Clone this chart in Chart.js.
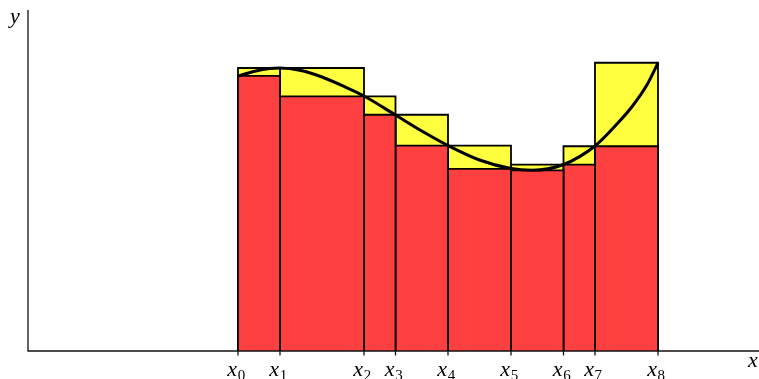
<!DOCTYPE html>
<html>
<head>
<meta charset="utf-8">
<script src="https://cdn.jsdelivr.net/npm/chart.js@4/dist/chart.umd.min.js"></script>
<style>
  html, body { margin: 0; padding: 0; background: #ffffff; }
  #wrap { width: 759px; height: 379px; }
</style>
</head>
<body>
<div id="wrap"><canvas id="c" width="759" height="379"></canvas></div>
<script>
// Partition points x0 .. x8
const partition = [0, 0.8, 2.4, 3.0, 4.0, 5.2, 6.2, 6.8, 8.0];
const tickSubscripts = ['0', '1', '2', '3', '4', '5', '6', '7', '8'];

// Upper (sup) and lower (inf) heights on each sub-interval
const upperSums = [5.39, 5.39, 4.85, 4.50, 3.91, 3.55, 3.90, 5.49];
const lowerSums = [5.24, 4.85, 4.50, 3.91, 3.47, 3.44, 3.55, 3.90];

// Sampled points of the function graph
const curveX = [0, 0.3, 0.6, 0.8, 1.2, 1.6, 2.0, 2.4, 3.0, 3.5, 4.0, 4.6, 5.2, 5.6, 6.2, 6.8, 7.2, 7.5, 7.8, 8.0];
const curveY = [5.238, 5.324, 5.381, 5.390, 5.343, 5.219, 5.048, 4.857, 4.495, 4.190, 3.914, 3.638, 3.476, 3.442, 3.552, 3.905, 4.305, 4.648, 5.086, 5.486];

const RED = '#ff4040';
const YELLOW = '#ffff40';

function rectPoints(i, h) {
  return [
    { x: partition[i], y: 0 },
    { x: partition[i], y: h },
    { x: partition[i + 1], y: h },
    { x: partition[i + 1], y: 0 }
  ];
}

const datasets = [];

// function graph on top
datasets.push({
  data: curveX.map((x, i) => ({ x, y: curveY[i] })),
  showLine: true,
  borderColor: '#000',
  borderWidth: 3,
  pointRadius: 0,
  fill: false,
  cubicInterpolationMode: 'monotone',
  order: 0
});

// lower sum rectangles
lowerSums.forEach((h, i) => {
  datasets.push({
    data: rectPoints(i, h),
    showLine: true,
    borderColor: '#000',
    borderWidth: 1.8,
    borderJoinStyle: 'miter',
    backgroundColor: RED,
    pointRadius: 0,
    fill: 'origin',
    tension: 0,
    order: 1
  });
});

// upper sum rectangles (behind)
upperSums.forEach((h, i) => {
  datasets.push({
    data: rectPoints(i, h),
    showLine: true,
    borderColor: '#000',
    borderWidth: 1.8,
    borderJoinStyle: 'miter',
    backgroundColor: YELLOW,
    pointRadius: 0,
    fill: 'origin',
    tension: 0,
    order: 2
  });
});

const MATH_FONT = 'italic 22px "Liberation Serif", "DejaVu Serif", serif';
const SUB_FONT = '15px "Liberation Serif", "DejaVu Serif", serif';

// Axes, tick marks and math-style labels
const axesPlugin = {
  id: 'mathAxes',
  afterDatasetsDraw(chart) {
    const { ctx, chartArea } = chart;
    const xs = chart.scales.x;
    const ys = chart.scales.y;
    const x0 = xs.left;
    const y0 = ys.getPixelForValue(0);
    ctx.save();
    ctx.strokeStyle = '#111';
    ctx.lineWidth = 1.3;
    ctx.beginPath();
    ctx.moveTo(x0, chartArea.top);
    ctx.lineTo(x0, y0);
    ctx.lineTo(chart.width, y0);
    ctx.stroke();

    // ticks
    partition.forEach((v) => {
      const px = xs.getPixelForValue(v);
      ctx.beginPath();
      ctx.moveTo(px, y0);
      ctx.lineTo(px, y0 + 4.5);
      ctx.stroke();
    });

    // tick labels x_i
    ctx.fillStyle = '#000';
    ctx.textBaseline = 'alphabetic';
    partition.forEach((v, i) => {
      const px = xs.getPixelForValue(v);
      ctx.font = MATH_FONT;
      const wx = ctx.measureText('x').width;
      ctx.font = SUB_FONT;
      const ws = ctx.measureText(tickSubscripts[i]).width;
      const start = px - 2 - (wx + ws) / 2;
      ctx.font = MATH_FONT;
      ctx.textAlign = 'left';
      ctx.fillText('x', start, y0 + 25);
      ctx.font = SUB_FONT;
      ctx.fillText(tickSubscripts[i], start + wx + 0.5, y0 + 29);
    });

    // axis names
    ctx.font = MATH_FONT;
    ctx.textAlign = 'left';
    ctx.fillText('y', 10, 23);
    ctx.fillText('x', 748, 366.5);
    ctx.restore();
  }
};

new Chart(document.getElementById('c'), {
  type: 'scatter',
  data: { datasets },
  options: {
    responsive: false,
    animation: false,
    devicePixelRatio: 1,
    layout: { padding: { left: 28, top: 10, right: 0, bottom: 28 } },
    scales: {
      x: { type: 'linear', min: -4, max: 9.924, display: false },
      y: { type: 'linear', min: 0, max: 6.495, display: false }
    },
    plugins: {
      legend: { display: false },
      tooltip: { enabled: false }
    }
  },
  plugins: [axesPlugin]
});
</script>
</body>
</html>
